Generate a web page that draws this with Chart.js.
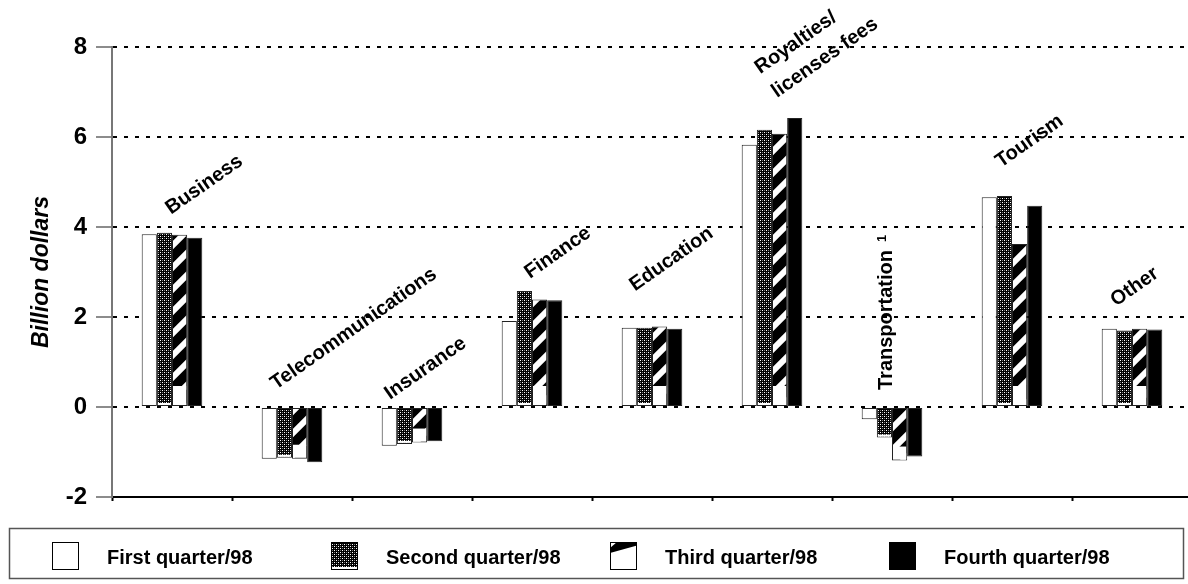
<!DOCTYPE html>
<html>
<head>
<meta charset="utf-8">
<script src="https://cdn.jsdelivr.net/npm/chart.js@4.4.1/dist/chart.umd.min.js"></script>
<style>
  html, body { margin: 0; padding: 0; background: #fff; overflow: hidden; }
  #wrap { position: absolute; left: 0; top: 0; width: 1200px; height: 584px; }
</style>
</head>
<body>
<div id="wrap"><canvas id="chart" width="1200" height="584"></canvas></div>
<script>
/* ---- data ---- */
var categories = [
  ['Business'], ['Telecommunications'], ['Insurance'], ['Finance'], ['Education'],
  ['Royalties/', 'licenses fees'], ['Transportation'], ['Tourism'], ['Other']
];
var categoryNotes = ['', '', '', '', '', '', '1', '', ''];
var seriesNames = ['First quarter/98', 'Second quarter/98', 'Third quarter/98', 'Fourth quarter/98'];
var q1 = [3.84, -1.15, -0.86, 1.91, 1.76, 5.83, -0.27, 4.66, 1.74];
var q2 = [3.87, -1.13, -0.82, 2.58, 1.76, 6.16, -0.68, 4.69, 1.70];
var q3 = [3.83, -1.15, -0.79, 2.39, 1.79, 6.07, -1.19, 3.62, 1.74];
var q4 = [3.76, -1.23, -0.76, 2.37, 1.74, 6.42, -1.10, 4.47, 1.72];
var yMin = -2, yMax = 8, yStep = 2;

/* ---- label placement (px, relative to group centre / group top) ---- */
var labelDx    = [-1, -16, -22, -2, -17, 5, 0, -11, -16];
var labelDy    = [18, 17, 7, 12, 35, 20, 17, 28, 22];
var labelAngle = [-35, -35, -35, -35, -35, -35, -90, -35, -35];

var FONT = '"Liberation Sans", Arial, Helvetica, sans-serif';
Chart.defaults.font.family = FONT;
Chart.defaults.color = '#000';

function makeStipple() {
  var c = document.createElement('canvas'); c.width = 4; c.height = 4;
  var g = c.getContext('2d');
  g.fillStyle = '#000'; g.fillRect(0, 0, 4, 4);
  g.fillStyle = '#fff'; g.fillRect(0, 0, 1, 1); g.fillRect(2, 2, 1, 1);
  g.fillStyle = '#777'; g.fillRect(2, 0, 1, 1); g.fillRect(0, 2, 1, 1);
  return g.createPattern(c, 'repeat');
}

function makeStripes() {
  var p = 22;
  var c = document.createElement('canvas'); c.width = p; c.height = p;
  var g = c.getContext('2d');
  g.fillStyle = '#000'; g.fillRect(0, 0, p, p);
  g.strokeStyle = '#fff'; g.lineWidth = 6;
  [0, p, 2 * p].forEach(function(k) {
    g.beginPath(); g.moveTo(k + 4, -4); g.lineTo(-4, k + 4); g.stroke();
  });
  return g.createPattern(c, 'repeat');
}

var stipple = makeStipple();
var stripes = makeStripes();
var fills = ['#fff', stipple, stripes, '#000'];

// white strip at the lower end of the patterned bars (as in the original print)
var bandPlugin = {
  id: 'bands',
  afterDatasetsDraw: function(chart) {
    var ctx = chart.ctx;
    [1, 2].forEach(function(di) {
      var meta = chart.getDatasetMeta(di);
      meta.data.forEach(function(bar, i) {
        var v = chart.data.datasets[di].data[i];
        var low = Math.max(bar.y, bar.base);
        var h = di === 1 ? 3 : (v >= 0 ? 20 : 14);
        ctx.fillStyle = '#fff';
        ctx.fillRect(bar.x - bar.width / 2 + 1, low - h, bar.width - 2, h - 1);
      });
    });
  }
};

var labelPlugin = {
  id: 'catLabels',
  afterDatasetsDraw: function(chart) {
    var ctx = chart.ctx, xs = chart.scales.x, ys = chart.scales.y;
    categories.forEach(function(lines, i) {
      var top = Math.max(0, q1[i], q2[i], q3[i], q4[i]);
      var x = xs.getPixelForValue(i) + labelDx[i];
      var y = ys.getPixelForValue(top) - labelDy[i];
      ctx.save();
      ctx.translate(x, y);
      ctx.rotate(labelAngle[i] * Math.PI / 180);
      ctx.font = 'bold 20px ' + FONT;
      ctx.fillStyle = '#000';
      ctx.textAlign = 'left';
      ctx.textBaseline = 'alphabetic';
      lines.forEach(function(t, k) {
        ctx.fillText(t, 0, -(lines.length - 1 - k) * 29);
      });
      if (categoryNotes[i]) {
        var w = ctx.measureText(lines[lines.length - 1]).width;
        ctx.font = 'bold 13px ' + FONT;
        ctx.fillText(categoryNotes[i], w + 8, -6);
      }
      ctx.restore();
    });
  }
};

function drawSwatch(ctx, i, x, y, w, h) {
  ctx.fillStyle = i === 2 ? '#fff' : fills[i];
  ctx.fillRect(x, y, w, h);
  if (i === 1) { ctx.fillStyle = '#fff'; ctx.fillRect(x, y + h - 3, w, 3); }
  if (i === 2) {
    ctx.fillStyle = '#000';
    ctx.beginPath();
    ctx.moveTo(x + 7, y); ctx.lineTo(x + w, y); ctx.lineTo(x + w, y + 3.5);
    ctx.lineTo(x, y + 11); ctx.lineTo(x, y + 6); ctx.closePath(); ctx.fill();
  }
  ctx.strokeStyle = '#000'; ctx.lineWidth = 1;
  ctx.strokeRect(x + 0.5, y + 0.5, w - 1, h - 1);
}

var legendPlugin = {
  id: 'boxLegend',
  afterDraw: function(chart) {
    var ctx = chart.ctx;
    ctx.save();
    ctx.strokeStyle = '#555'; ctx.lineWidth = 1.5;
    ctx.strokeRect(9.5, 528.5, 1174, 50);
    ctx.font = 'bold 20px ' + FONT;
    ctx.textAlign = 'left'; ctx.textBaseline = 'alphabetic';
    seriesNames.forEach(function(name, i) {
      var sx = 52 + i * 279;
      drawSwatch(ctx, i, sx, 542, 27, 28);
      ctx.fillStyle = '#000';
      ctx.fillText(name, sx + 55, 564);
    });
    ctx.restore();
  }
};

var series = [q1, q2, q3, q4];
var datasets = series.map(function(d, i) {
  return {
    label: seriesNames[i],
    data: d,
    backgroundColor: fills[i],
    borderColor: '#222',
    borderWidth: 1,
    borderSkipped: false,
    barPercentage: 1,
    categoryPercentage: 0.505
  };
});

new Chart(document.getElementById('chart').getContext('2d'), {
  type: 'bar',
  data: { labels: categories.map(function(l) { return l.join(' '); }), datasets: datasets },
  options: {
    responsive: false,
    animation: false,
    devicePixelRatio: 1,
    layout: { padding: { left: 0, right: 8, top: 47, bottom: 87 } },
    plugins: { legend: { display: false }, tooltip: { enabled: false } },
    scales: {
      x: {
        ticks: { display: false },
        grid: { offset: true, drawOnChartArea: false, drawTicks: true, tickLength: 4, tickWidth: 2, tickColor: '#000' },
        border: { display: true, color: '#000', width: 2 },
        afterFit: function(s) { s.height = 0; }
      },
      y: {
        min: yMin, max: yMax,
        ticks: { stepSize: yStep, padding: 9, color: '#000', font: { size: 24, weight: 'bold' } },
        grid: {
          color: function(c) { return c.tick && c.tick.value === yMin ? 'rgba(0,0,0,0)' : '#000'; },
          lineWidth: 2, tickLength: 16, tickWidth: 1.5, tickColor: '#666'
        },
        border: { display: true, color: '#777', width: 2, dash: [4, 7] },
        title: {
          display: true, text: 'Billion dollars', color: '#000',
          font: { size: 23, style: 'italic', weight: 'bold' },
          padding: { top: 28, bottom: 0 }
        },
        afterFit: function(s) { s.width = 112; }
      }
    }
  },
  plugins: [bandPlugin, labelPlugin, legendPlugin]
});
</script>
</body>
</html>
